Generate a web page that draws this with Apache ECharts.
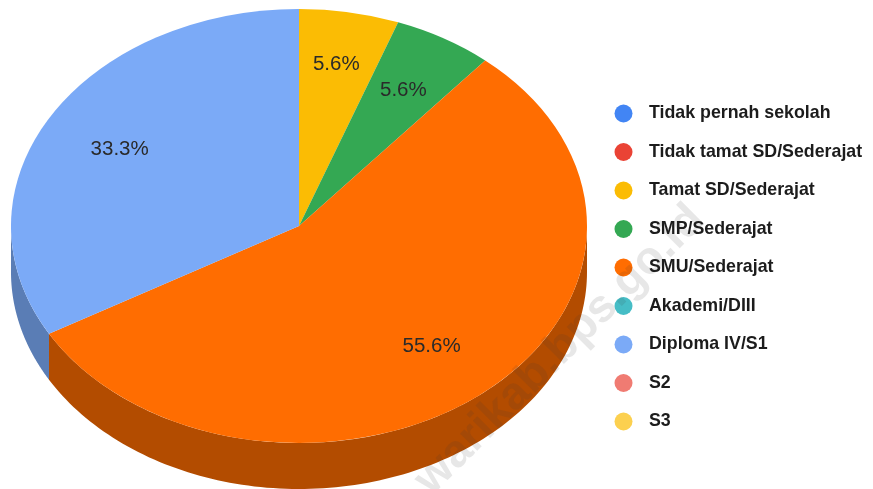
<!DOCTYPE html>
<html><head><meta charset="utf-8">
<style>html,body{margin:0;padding:0;background:#fff}#c{width:873px;height:489px;filter:blur(.5px)}</style>
<script src="https://cdn.jsdelivr.net/npm/echarts@6/dist/echarts.min.js"></script>
</head><body><div id="c"></div>
<script>
const categories = ['Tidak pernah sekolah','Tidak tamat SD/Sederajat','Tamat SD/Sederajat','SMP/Sederajat','SMU/Sederajat','Akademi/DIII','Diploma IV/S1','S2','S3'];
const values = [0,0,5.6,5.6,55.6,0,33.3,0,0];
const colors = ['#4285f4','#ea4335','#fbbc04','#34a853','#ff6d01','#46bdc6','#7baaf7','#f07b72','#fcd04f'];
const wallColors = {4:'#b34c00',6:'#5a7db5'};
const watermark = 'warikab.bps.go.id';

const CX=299, CY=226, RX=288, RY=217, DEPTH=46, LABEL_RATIO=0.72;
const labelNudge = {2:[1,-8],3:[0,-1],6:[0,2]};
const total = values.reduce((a,b)=>a+b,0);
const starts = []; values.reduce((acc,v,i)=>{starts[i]=acc;return acc+v;},0);
const ang = v => v/total*2*Math.PI;       // clockwise from 12 o'clock
const pt = (a,dy=0)=>[CX+RX*Math.sin(a), CY-RY*Math.cos(a)+dy];

function renderSlice(i){
  return function(){
    const v = values[i]; if(!v) return {type:'group',children:[]};
    const a0=ang(starts[i]), a1=ang(starts[i]+v);
    const children=[];
    const w0=Math.max(a0,Math.PI/2), w1=Math.min(a1,Math.PI*1.5);
    if(w1>w0){
      const up=[],down=[];
      for(let k=0;k<=120;k++){const a=w0+(w1-w0)*k/120; up.push(pt(a)); down.unshift(pt(a,DEPTH));}
      children.push({type:'polygon',shape:{points:up.concat(down)},style:{fill:wallColors[i]||colors[i]},z2:1});
    }
    children.push({type:'group',x:CX,y:CY,scaleY:RY/RX,children:[{
      type:'sector',
      shape:{cx:0,cy:0,r0:0,r:RX,startAngle:a0-Math.PI/2,endAngle:a1-Math.PI/2,clockwise:true},
      style:{fill:colors[i]},z2:2}]});
    const m=(a0+a1)/2, n=labelNudge[i]||[0,0];
    children.push({type:'text',x:CX+RX*LABEL_RATIO*Math.sin(m)+n[0],y:CY-RY*LABEL_RATIO*Math.cos(m)+n[1],
      style:{text:v.toFixed(1)+'%',fill:'#2a2a2a',font:'20.5px "Liberation Sans"',align:'center',verticalAlign:'middle'},z2:3});
    return {type:'group',children};
  };
}

const chart = echarts.init(document.getElementById('c'),null,{renderer:'canvas'});
chart.setOption({
  animation:false,
  backgroundColor:'#fff',
  legend:{
    orient:'vertical',left:609.5,top:99.5,icon:'circle',itemWidth:18,itemHeight:18,itemGap:20.5,
    selectedMode:false,
    data:categories,
    textStyle:{color:'#1c1c1c',fontFamily:'Liberation Sans',fontWeight:'bold',fontSize:17.8,padding:[0,0,0,11.5]}
  },
  series:categories.map((name,i)=>({
    type:'custom',name,coordinateSystem:'none',silent:true,
    itemStyle:{color:colors[i]},
    data:[[values[i]]],
    renderItem:renderSlice(i)
  })),
  graphic:[{type:'text',x:560,y:350,rotation:Math.PI/4,z:100,silent:true,
    style:{text:watermark,fill:'rgba(60,60,60,0.12)',font:'bold 46px "Liberation Sans"',align:'center',verticalAlign:'middle'}}]
});
</script></body></html>
